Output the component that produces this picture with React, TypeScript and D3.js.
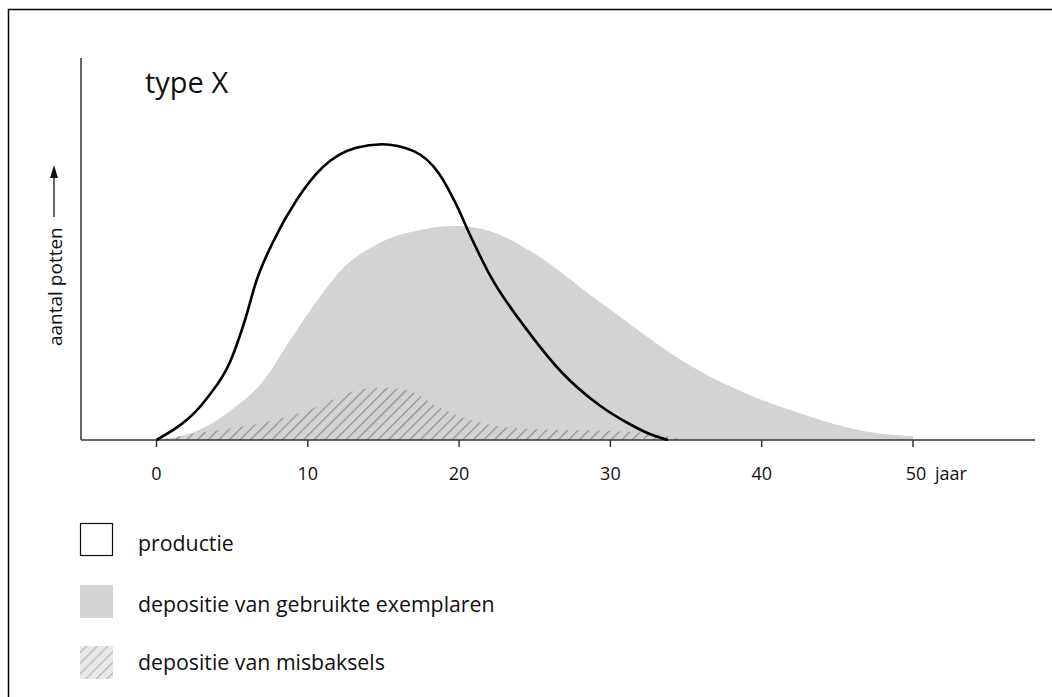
import React from "react";
import * as d3 from "d3";

// production (line)
const prodX = [0, 3.35, 4.86, 5.85, 6.6, 7.7, 9.26, 11.0, 13.2, 14.9, 17.0, 18.7, 19.8, 20.7, 22.0, 24.7, 26.7, 29.3, 31.2, 32.6, 33.8];
const prodY = [0, 14, 26, 40, 53, 66, 80, 91, 97.4, 98.6, 96.3, 88.6, 78.6, 68.6, 55.3, 35.3, 23, 11.5, 5.5, 2, 0];

// deposition of used examples (gray area)
const usedX = [0, 2.66, 4.86, 7.06, 8.8, 10.6, 12.35, 14.55, 17.6, 19.8, 22.0, 24.7, 29.3, 35.9, 39.2, 42.5, 45.8, 48, 50];
const usedY = [0, 3, 9.7, 19.7, 33, 46.3, 57.4, 65.2, 70.2, 71.3, 69.7, 63, 46, 23, 15, 9, 4, 2, 1.3];

// deposition of misfired pots (hatched area)
const misX = [0, 2.66, 7.06, 9.9, 11.5, 13.6, 15, 16.75, 18.5, 20.3, 22.5, 24.7, 30, 33, 35];
const misY = [0, 2.3, 5.8, 9.7, 13, 17, 17.4, 16.3, 11.3, 7.4, 4.7, 3.7, 3, 2, 0];

const xTicks = [0, 10, 20, 30, 40, 50];
const legendLabels = ["productie", "depositie van gebruikte exemplaren", "depositie van misbaksels"];

const FONT = "'Open Sans', 'Noto Sans', sans-serif";

export default function App() {
  const x = d3.scaleLinear().domain([0, 50]).range([156.5, 913]);
  const y = d3.scaleLinear().domain([0, 100]).range([440, 140]);

  const toPts = (xs: number[], ys: number[]) => xs.map((v, i) => [v, ys[i]] as [number, number]);

  const line = d3
    .line<[number, number]>()
    .x((d) => x(d[0]))
    .y((d) => y(d[1]))
    .curve(d3.curveMonotoneX);
  const area = d3
    .area<[number, number]>()
    .x((d) => x(d[0]))
    .y0(y(0))
    .y1((d) => y(d[1]))
    .curve(d3.curveMonotoneX);

  const axisY = y(0);
  const legendY = [523, 585, 646];

  return (
    <svg width={1052} height={697} style={{ position: "absolute", left: 0, top: 0, background: "#fff" }}>
      <defs>
        <pattern id="hatch" patternUnits="userSpaceOnUse" width={7.5} height={7.5} patternTransform="rotate(45)">
          <line x1={0} y1={0} x2={0} y2={7.5} stroke="#8f8f8f" strokeWidth={2.4} />
        </pattern>
        <pattern id="hatchLegend" patternUnits="userSpaceOnUse" width={7.5} height={7.5} patternTransform="rotate(45)">
          <rect x={0} y={0} width={7.5} height={7.5} fill="#e9e9ea" />
          <line x1={0} y1={0} x2={0} y2={7.5} stroke="#b4b4b4" strokeWidth={2.4} />
        </pattern>
      </defs>
      <rect x={8.5} y={9.5} width={1200} height={1000} fill="none" stroke="#000" strokeWidth={1.5} />

      <path d={area(toPts(usedX, usedY)) || ""} fill="#d1d3d4" />
      <path d={area(toPts(misX, misY)) || ""} fill="url(#hatch)" />

      {/* axes */}
      <line x1={81} y1={58} x2={81} y2={axisY} stroke="#333" strokeWidth={1.5} />
      <line x1={81} y1={axisY} x2={1035} y2={axisY} stroke="#333" strokeWidth={1.5} />
      {xTicks.map((t) => (
        <g key={t}>
          <line x1={x(t)} x2={x(t)} y1={axisY} y2={axisY + 7} stroke="#333" strokeWidth={1.5} />
          <text x={x(t) + (t === 50 ? 3 : 0)} y={480} textAnchor="middle" fontFamily={FONT} fontSize={18} fill="#111">
            {t}
          </text>
        </g>
      ))}
      <text x={935} y={480} fontFamily={FONT} fontSize={18} fill="#111">
        jaar
      </text>

      <path d={line(toPts(prodX, prodY)) || ""} fill="none" stroke="#000" strokeWidth={2.6} strokeLinejoin="round" />

      <text x={145} y={93} fontFamily={FONT} fontSize={29} fill="#111">
        type X
      </text>

      {/* y label */}
      <text transform="translate(62,346) rotate(-90)" fontFamily={FONT} fontSize={19} fill="#111">
        aantal potten
      </text>
      <line x1={54} y1={217} x2={54} y2={176} stroke="#111" strokeWidth={1.3} />
      <path d="M54,165 L50,178 L58,178 Z" fill="#111" />

      {/* legend */}
      <rect x={80.5} y={legendY[0] + 0.5} width={32} height={32} fill="#fff" stroke="#111" strokeWidth={1.2} />
      <rect x={80} y={legendY[1]} width={33} height={33} fill="#d1d3d4" />
      <rect x={80} y={legendY[2]} width={33} height={33} fill="url(#hatchLegend)" />
      {legendLabels.map((l, i) => (
        <text key={l} x={138} y={[551, 612, 670][i]} fontFamily={FONT} fontSize={21.3} fill="#111">
          {l}
        </text>
      ))}
    </svg>
  );
}
